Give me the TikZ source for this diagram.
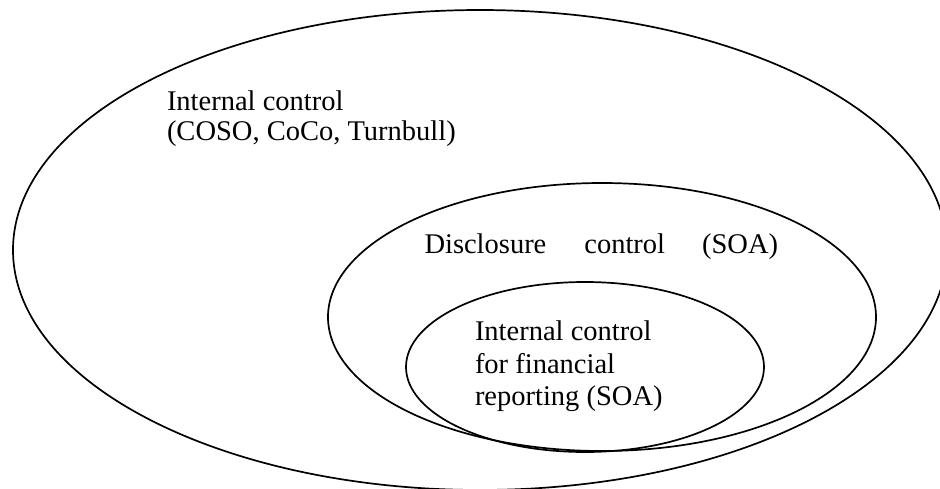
\documentclass[tikz,border=0pt]{standalone}
\usepackage{fontspec}
\setmainfont{Liberation Serif}
\usetikzlibrary{shapes.geometric}
\tikzset{
  ring/.style={draw=black, line width=1.7pt, ellipse, inner sep=0pt, fill=none},
  lbl/.style={anchor=base west, inner sep=0pt, outer sep=0pt, font=\fontsize{28.5}{31}\selectfont},
}
\begin{document}
\begin{tikzpicture}[x=1pt, y=-1pt]
\useasboundingbox (0,0) rectangle (940,488);
\clip (0,0) rectangle (940,488);
\fill[white] (0,0) rectangle (940,488);
\node[ring, minimum width=934pt, minimum height=480pt] (outer) at (480,250) {};
\node[ring, minimum width=548pt, minimum height=268pt] (middle) at (602,317) {};
\node[ring, minimum width=358pt, minimum height=170pt] (inner) at (585,367) {};
\node[lbl] (o1) at (167,110) {Internal control};
\node[lbl] (o2) at (167,140) {(COSO, CoCo, Turnbull)};
\node[lbl] (d1) at (424.5,253) {Disclosure\hspace{38pt}control\hspace{37pt}(SOA)};
\node[lbl] (i1) at (475,340) {Internal control};
\node[lbl] (i2) at (475,373) {for financial};
\node[lbl] (i3) at (475,405) {reporting (SOA)};
\end{tikzpicture}
\end{document}
